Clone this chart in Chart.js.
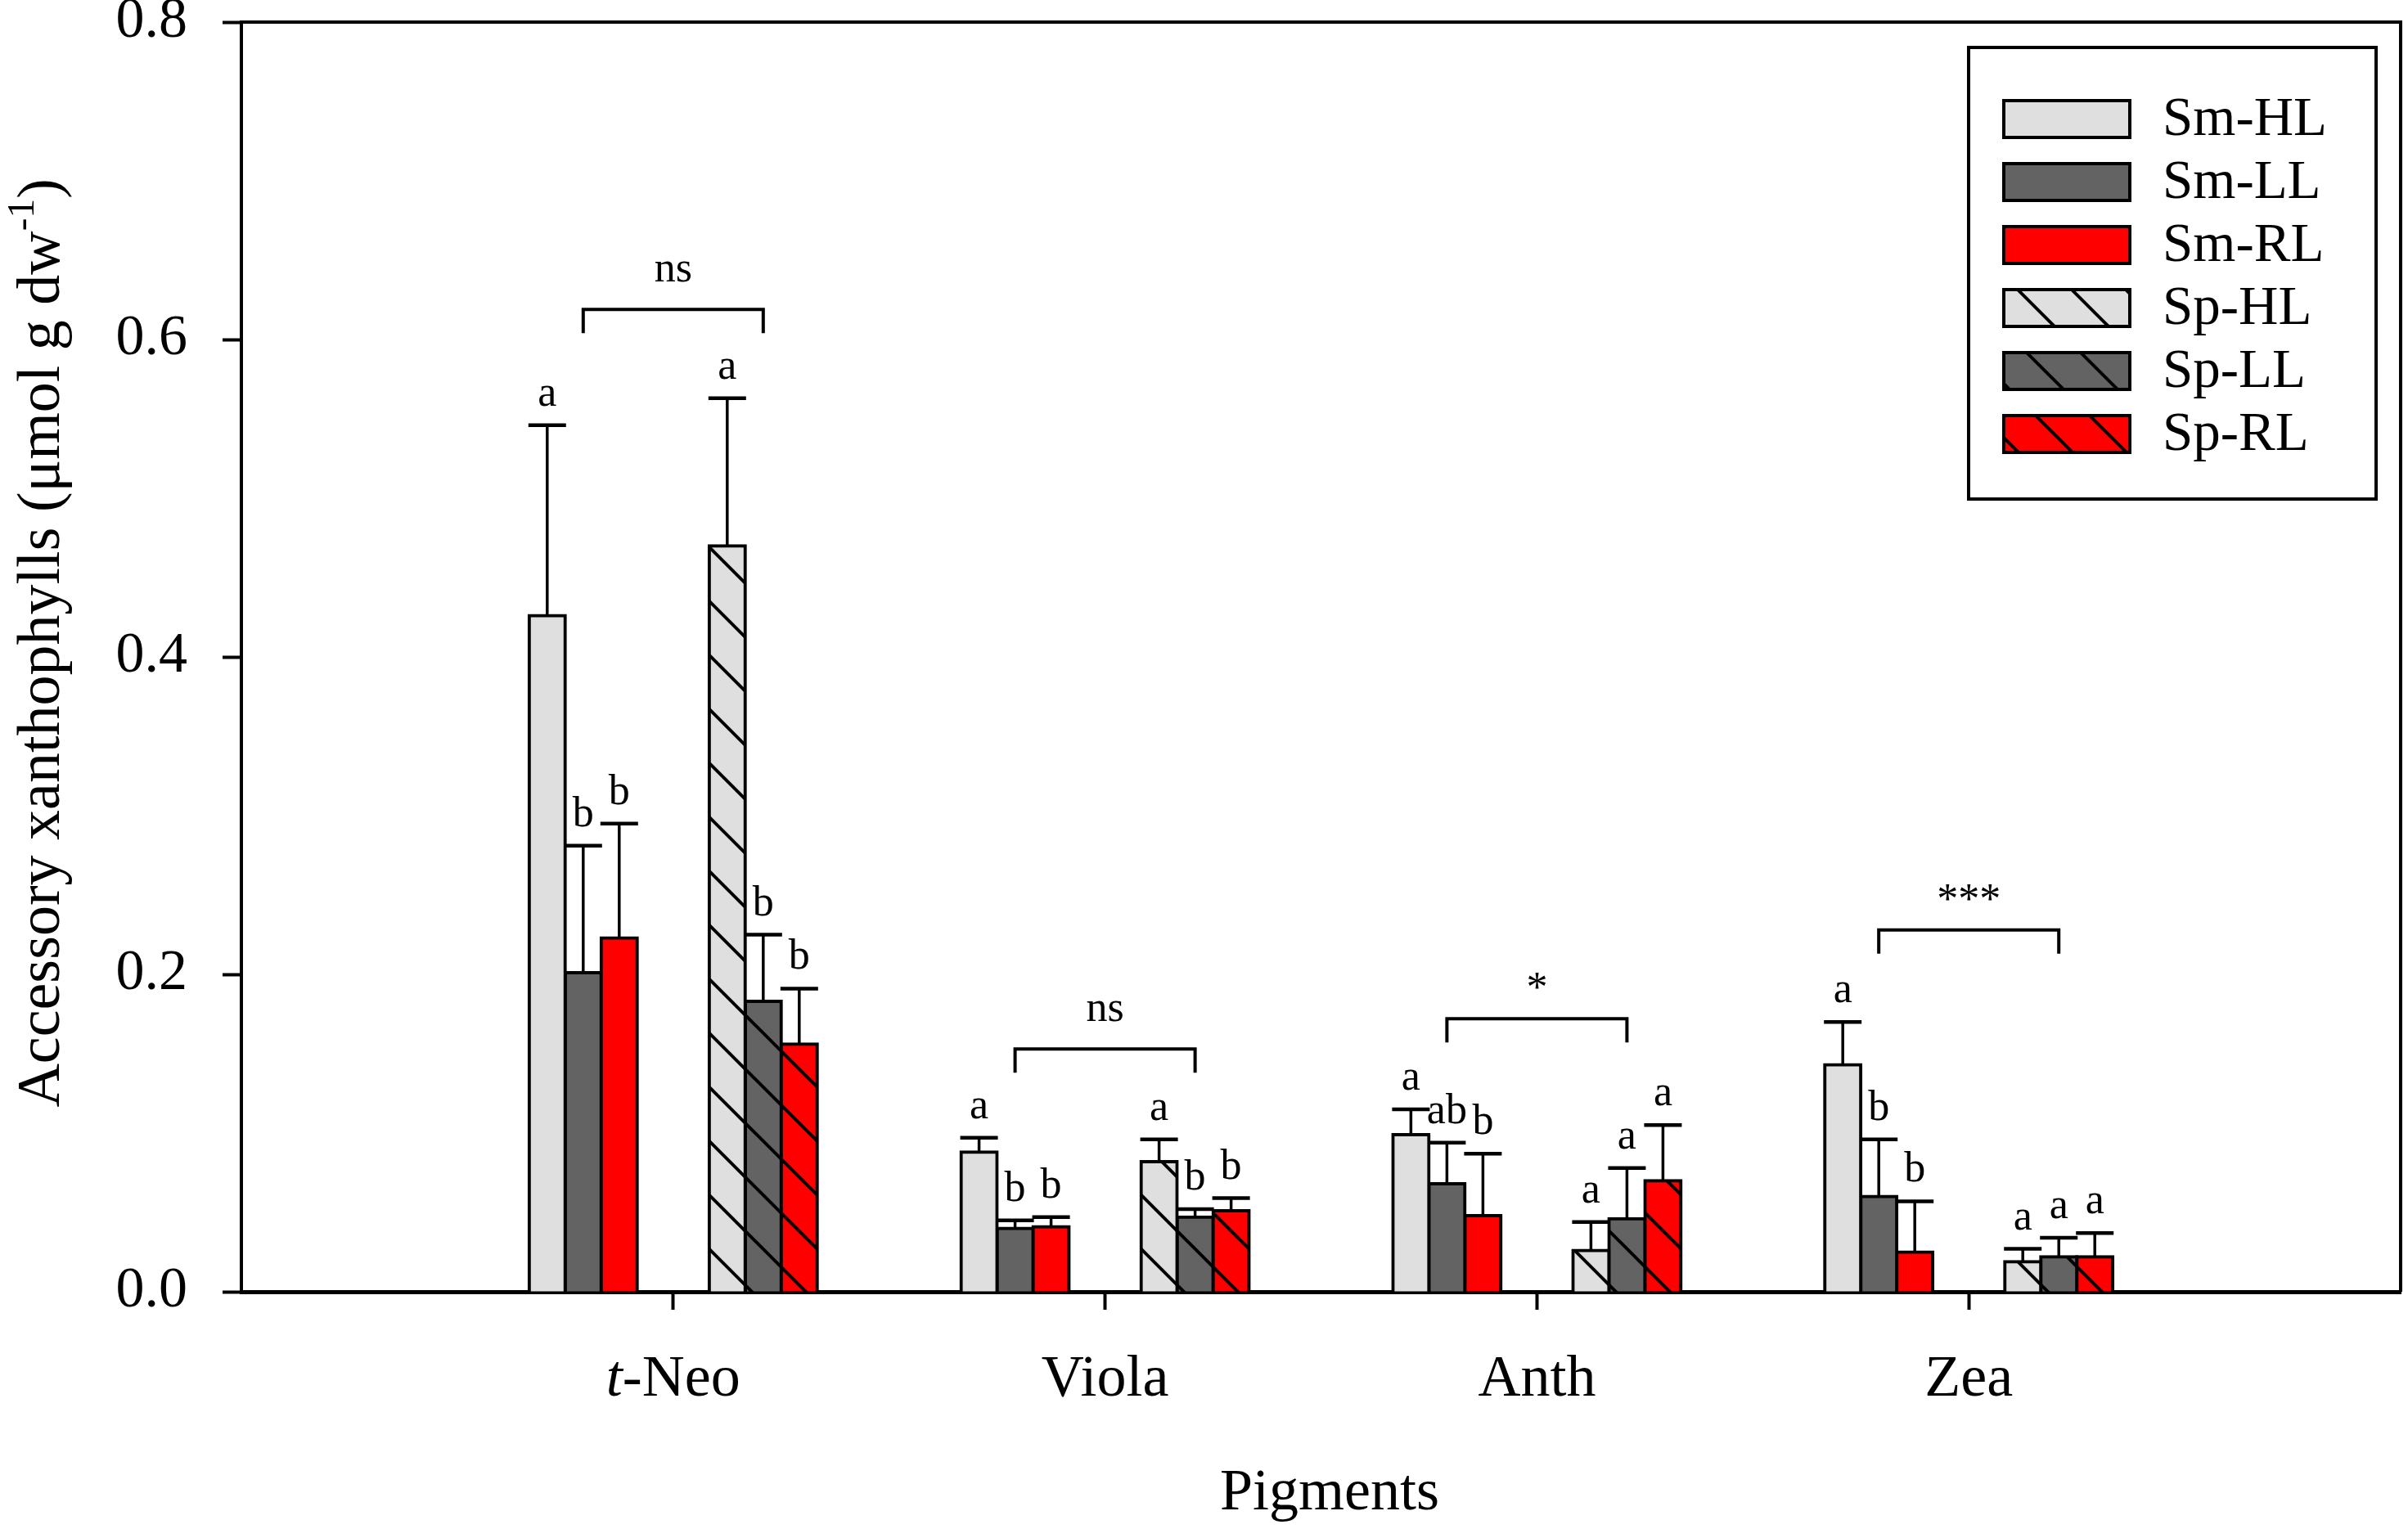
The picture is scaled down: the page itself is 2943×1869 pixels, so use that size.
<!DOCTYPE html>
<html lang="en">
<head>
    <meta charset="UTF-8">
    <title>Accessory xanthophylls</title>
    <script src="https://cdn.jsdelivr.net/npm/chart.js@4.4.0/dist/chart.umd.min.js"></script>
    <style>
        body { margin: 0; background: #fff; overflow: hidden; }
        #wrap { width: 2943px; height: 1869px; position: relative; }
    </style>
</head>
<body>
<div id="wrap"><canvas id="chart"></canvas></div>
<script>

// categories on the x axis (placed at 1..4 on a 0..5 linear axis)
const categories = ['t-Neo', 'Viola', 'Anth', 'Zea'];
const yTicks = [0, 0.2, 0.4, 0.6, 0.8];

// means
const smHL = [0.426, 0.088, 0.099, 0.143];
const smLL = [0.201, 0.040, 0.068, 0.060];
const smRL = [0.223, 0.041, 0.048, 0.025];
const spHL = [0.470, 0.082, 0.026, 0.019];
const spLL = [0.183, 0.047, 0.046, 0.022];
const spRL = [0.156, 0.051, 0.070, 0.022];

// upper error (SD)
const smHLsd = [0.120, 0.009, 0.016, 0.027];
const smLLsd = [0.080, 0.005, 0.026, 0.036];
const smRLsd = [0.072, 0.006, 0.039, 0.032];
const spHLsd = [0.093, 0.014, 0.018, 0.008];
const spLLsd = [0.042, 0.005, 0.032, 0.012];
const spRLsd = [0.035, 0.008, 0.035, 0.015];

// letters above error bars
const smHLlet = ['a', 'a', 'a', 'a'];
const smLLlet = ['b', 'b', 'ab', 'b'];
const smRLlet = ['b', 'b', 'b', 'b'];
const spHLlet = ['a', 'a', 'a', 'a'];
const spLLlet = ['b', 'b', 'a', 'a'];
const spRLlet = ['b', 'b', 'a', 'a'];

// Sm vs Sp comparison brackets
const bracketY = [0.619, 0.153, 0.172, 0.228];
const bracketText = ['ns', 'ns', '*', '***'];

const FONT = "'Liberation Serif', 'Times New Roman', serif";
const LIGHT = '#dfdfdf', DARK = '#636363', RED = '#ff0000';

const canvas = document.getElementById('chart');
const ctx = canvas.getContext('2d');

function hatch(color) {
    const P = 66;
    const c = document.createElement('canvas');
    c.width = P; c.height = P;
    const g = c.getContext('2d');
    g.fillStyle = color;
    g.fillRect(0, 0, P, P);
    g.strokeStyle = '#000';
    g.lineWidth = 4;
    g.beginPath();
    for (let k = -1; k <= 1; k++) {
        g.moveTo(k * P - 3, -3);
        g.lineTo(k * P + P + 3, P + 3);
    }
    g.stroke();
    return ctx.createPattern(c, 'repeat');
}

const series = [
    { label: 'Sm-HL', mean: smHL, sd: smHLsd, letters: smHLlet, fill: LIGHT },
    { label: 'Sm-LL', mean: smLL, sd: smLLsd, letters: smLLlet, fill: DARK },
    { label: 'Sm-RL', mean: smRL, sd: smRLsd, letters: smRLlet, fill: RED },
    null, null, // empty slots between the two species
    { label: 'Sp-HL', mean: spHL, sd: spHLsd, letters: spHLlet, fill: hatch(LIGHT) },
    { label: 'Sp-LL', mean: spLL, sd: spLLsd, letters: spLLlet, fill: hatch(DARK) },
    { label: 'Sp-RL', mean: spRL, sd: spRLsd, letters: spRLlet, fill: hatch(RED) }
];

const datasets = series.map(s => {
    if (!s) {
        return {
            label: '', data: categories.map((c, i) => ({ x: i + 1, y: 0 })),
            backgroundColor: 'rgba(0,0,0,0)', borderWidth: 0
        };
    }
    return {
        label: s.label,
        data: s.mean.map((v, i) => ({ x: i + 1, y: v })),
        backgroundColor: s.fill,
        borderColor: '#000',
        borderWidth: 4,
        inflateAmount: 2
    };
});

const extras = {
    id: 'extras',
    afterDatasetsDraw(chart) {
        const c = chart.ctx, ys = chart.scales.y;
        c.save();
        c.strokeStyle = '#000';
        c.fillStyle = '#000';
        c.font = '52px ' + FONT;
        c.textAlign = 'center';
        c.textBaseline = 'alphabetic';
        series.forEach((s, di) => {
            if (!s) return;
            chart.getDatasetMeta(di).data.forEach((bar, i) => {
                const top = ys.getPixelForValue(s.mean[i] + s.sd[i]);
                const half = bar.width / 2 + 1;
                c.lineWidth = 3.5;
                c.beginPath();
                c.moveTo(bar.x, bar.y);
                c.lineTo(bar.x, top);
                c.stroke();
                c.lineWidth = 4.5;
                c.beginPath();
                c.moveTo(bar.x - half, top);
                c.lineTo(bar.x + half, top);
                c.stroke();
                c.fillText(s.letters[i], bar.x, top - 24);
            });
        });
        // brackets
        const a = chart.getDatasetMeta(1).data, b = chart.getDatasetMeta(6).data;
        const xs = chart.scales.x;
        bracketY.forEach((v, i) => {
            const by = ys.getPixelForValue(v);
            c.lineWidth = 4;
            c.beginPath();
            c.moveTo(a[i].x, by + 29);
            c.lineTo(a[i].x, by);
            c.lineTo(b[i].x, by);
            c.lineTo(b[i].x, by + 29);
            c.stroke();
            c.font = '52px ' + FONT;
            const m = c.measureText(bracketText[i]);
            const ty = by - 46 + (m.actualBoundingBoxAscent - m.actualBoundingBoxDescent) / 2;
            c.fillText(bracketText[i], xs.getPixelForValue(i + 1), ty);
        });
        c.restore();
    },
    afterDraw(chart) {
        const c = chart.ctx, area = chart.chartArea, xs = chart.scales.x;
        c.save();
        c.strokeStyle = '#000';
        c.fillStyle = '#000';
        // top and right frame
        c.lineWidth = 4;
        c.beginPath();
        c.moveTo(area.left, area.top);
        c.lineTo(area.right, area.top);
        c.lineTo(area.right, area.bottom);
        c.stroke();

        // category labels
        c.textBaseline = 'alphabetic';
        c.textAlign = 'left';
        categories.forEach((name, i) => {
            const cx = xs.getPixelForValue(i + 1);
            let parts = [[name, 'normal']];
            if (name.startsWith('t-')) parts = [['t', 'italic'], [name.slice(1), 'normal']];
            let w = 0;
            parts.forEach(p => { c.font = p[1] + ' 72px ' + FONT; w += c.measureText(p[0]).width; });
            let x = cx - w / 2;
            parts.forEach(p => {
                c.font = p[1] + ' 72px ' + FONT;
                c.fillText(p[0], x, 1706);
                x += c.measureText(p[0]).width;
            });
        });

        // x title
        c.textAlign = 'center';
        c.font = '72px ' + FONT;
        c.fillText('Pigments', 1625, 1845);

        // y title with superscript
        c.save();
        c.translate(72, 786);
        c.rotate(-Math.PI / 2);
        c.textAlign = 'left';
        const main = 'Accessory xanthophylls (\u03bcmol g dw', sup = '-1', close = ')';
        c.font = '74px ' + FONT;
        const w1 = c.measureText(main).width, w3 = c.measureText(close).width;
        c.font = '47px ' + FONT;
        const w2 = c.measureText(sup).width;
        let x0 = -(w1 + w2 + w3) / 2;
        c.font = '74px ' + FONT;
        c.fillText(main, x0, 0);
        c.font = '47px ' + FONT;
        c.fillText(sup, x0 + w1, -31);
        c.font = '74px ' + FONT;
        c.fillText(close, x0 + w1 + w2, 0);
        c.restore();

        // legend
        c.lineWidth = 4;
        c.strokeRect(2406, 58, 498, 552);
        c.font = '67px ' + FONT;
        c.textAlign = 'left';
        c.textBaseline = 'middle';
        let row = 0;
        series.forEach(s => {
            if (!s) return;
            const cy = 145 + row * 77;
            c.fillStyle = s.fill;
            c.fillRect(2449, cy - 22, 154, 45);
            c.lineWidth = 4;
            c.strokeRect(2449, cy - 22, 154, 45);
            c.fillStyle = '#000';
            c.fillText(s.label, 2643, cy + 2);
            row++;
        });
        c.restore();
    }
};

new Chart(ctx, {
    type: 'bar',
    data: { datasets: datasets },
    options: {
        responsive: true,
        maintainAspectRatio: false,
        animation: false,
        events: [],
        layout: { padding: { top: 27, right: 9, left: 0, bottom: 0 } },
        categoryPercentage: 0.667,
        barPercentage: 1,
        plugins: { legend: { display: false }, tooltip: { enabled: false } },
        scales: {
            x: {
                type: 'linear',
                min: 0,
                max: 5,
                offset: false,
                z: 1,
                afterBuildTicks: scale => { scale.ticks = categories.map((c, i) => ({ value: i + 1 })); },
                afterFit: scale => { scale.height = 290; scale.paddingLeft = 0; scale.paddingRight = 0; },
                ticks: { display: false },
                grid: { drawOnChartArea: false, drawTicks: true, tickLength: 22, tickWidth: 4, tickColor: '#000', offset: false },
                border: { display: true, color: '#000', width: 5 }
            },
            y: {
                min: 0,
                max: 0.8,
                z: 1,
                afterBuildTicks: scale => { scale.ticks = yTicks.map(v => ({ value: v })); },
                afterFit: scale => { scale.width = 295; scale.paddingTop = 0; scale.paddingBottom = 0; },
                ticks: {
                    padding: 43,
                    color: '#000',
                    font: { family: FONT, size: 70 },
                    callback: v => v.toFixed(1)
                },
                grid: { drawOnChartArea: false, drawTicks: true, tickLength: 23, tickWidth: 4, tickColor: '#000' },
                border: { display: true, color: '#000', width: 4 }
            }
        }
    },
    plugins: [extras]
});
</script>
</body>
</html>
